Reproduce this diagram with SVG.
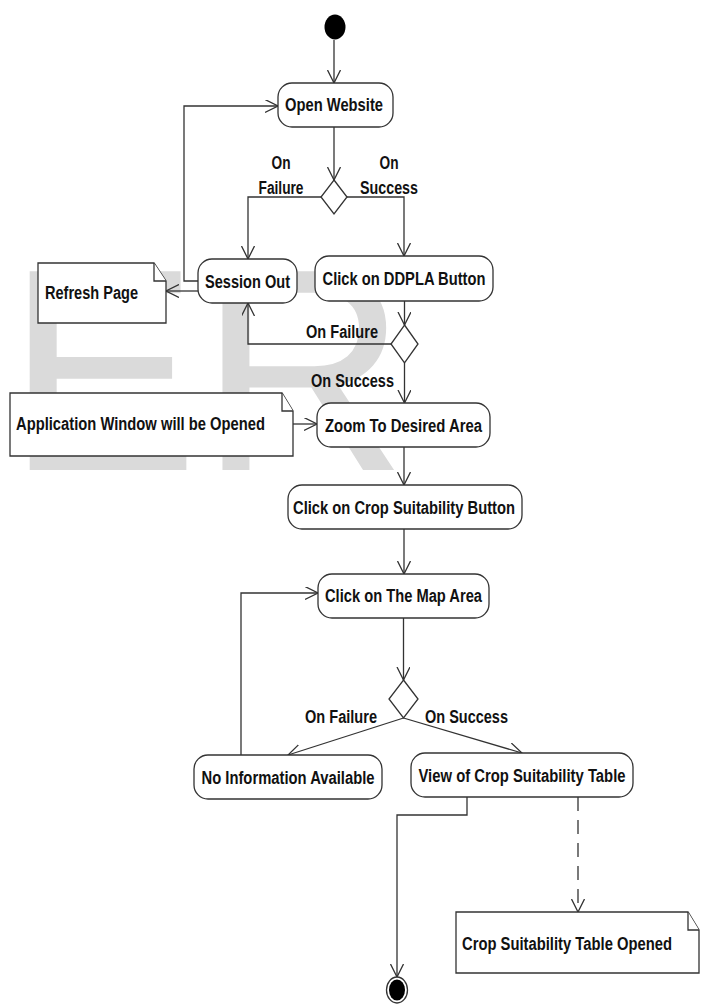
<svg xmlns="http://www.w3.org/2000/svg" width="709" height="1004" viewBox="0 0 709 1004">
<style>
.wm{font-family:"Liberation Sans",Arial,sans-serif;font-size:289px;fill:#dadada}
.box{fill:#fff;stroke:#333;stroke-width:1.3}
.note{fill:#fff;stroke:#333;stroke-width:1.3}
.t{font-family:"Liberation Sans Narrow","Arial Narrow","Liberation Sans",Arial,sans-serif;font-weight:bold;font-size:18px;fill:#111;text-anchor:middle}
.tl{font-family:"Liberation Sans Narrow","Arial Narrow","Liberation Sans",Arial,sans-serif;font-weight:bold;font-size:18px;fill:#111;text-anchor:start}
.c{fill:none;stroke:#333;stroke-width:1.3;marker-end:url(#arr)}
.d{stroke-dasharray:14 9}
</style>
<defs>
<marker id="arr" markerUnits="userSpaceOnUse" markerWidth="14" markerHeight="14" refX="13" refY="6.5" orient="auto">
<path d="M0,0 L13,6.5 L0,13" fill="none" stroke="#333" stroke-width="1.3"/>
</marker>
</defs>
<rect width="709" height="1004" fill="#fff"/>
<text class="wm" x="6" y="470">ER</text>

<g id="connectors">
<path class="c" d="M334,40 V83"/>
<path class="c" d="M334,127 V180"/>
<path class="c" d="M321,197 H248 V259"/>
<path class="c" d="M347,197 H404 V256"/>
<path class="c" d="M198,281 H184 V106 H278"/>
<path class="c" d="M198,291 H166"/>
<path class="c" d="M404.5,301 V325"/>
<path class="c" d="M391,344 H248 V303"/>
<path class="c" d="M404.5,363 V403"/>
<path class="c" d="M293,424 H317"/>
<path class="c" d="M404,447 V485"/>
<path class="c" d="M404,529 V574"/>
<path class="c" d="M403.5,618 V680"/>
<path class="c" d="M403.5,718 L288,755"/>
<path class="c" d="M403.5,718 L522,753"/>
<path class="c" d="M241,755 V593 H318"/>
<path class="c" d="M467,797 V815 H397 V977"/>
<path class="c d" d="M578,797 V912"/>
</g>

<g id="labels">
<text class="t" x="281" y="169" textLength="19" lengthAdjust="spacingAndGlyphs">On</text>
<text class="t" x="281" y="194" textLength="45" lengthAdjust="spacingAndGlyphs">Failure</text>
<text class="t" x="389" y="169" textLength="19" lengthAdjust="spacingAndGlyphs">On</text>
<text class="t" x="389" y="194" textLength="58" lengthAdjust="spacingAndGlyphs">Success</text>
<text class="t" x="342" y="338" textLength="72" lengthAdjust="spacingAndGlyphs">On Failure</text>
<text class="t" x="352.5" y="386.5" textLength="83" lengthAdjust="spacingAndGlyphs">On Success</text>
<text class="t" x="341" y="723" textLength="72" lengthAdjust="spacingAndGlyphs">On Failure</text>
<text class="t" x="466.5" y="723" textLength="83" lengthAdjust="spacingAndGlyphs">On Success</text>
</g>

<g id="start"><ellipse cx="335" cy="27" rx="10.5" ry="12.5" fill="#000"/></g>

<g id="open-website">
<rect class="box" x="278" y="83" width="115" height="44" rx="14"/>
<text class="t" x="334" y="111" textLength="98" lengthAdjust="spacingAndGlyphs">Open Website</text>
</g>

<g id="decision1"><polygon class="box" points="334,180 347,197 334,214 321,197"/></g>

<g id="session-out">
<rect class="box" x="198" y="259" width="99" height="44" rx="14"/>
<text class="t" x="247.5" y="287.5" textLength="85" lengthAdjust="spacingAndGlyphs">Session Out</text>
</g>

<g id="refresh-page">
<path class="note" d="M38,263 H154 L166,281 V323 H38 Z"/>
<path class="note" d="M154,263 V281 H166" fill="none"/>
<text class="tl" x="45" y="299" textLength="93" lengthAdjust="spacingAndGlyphs">Refresh Page</text>
</g>

<g id="ddpla">
<rect class="box" x="315" y="256" width="178" height="45" rx="14"/>
<text class="t" x="404" y="284.5" textLength="163" lengthAdjust="spacingAndGlyphs">Click on DDPLA Button</text>
</g>

<g id="decision2"><polygon class="box" points="404.5,325 418,344 404.5,363 391,344"/></g>

<g id="app-window-note">
<path class="note" d="M10,393 H282 L293,411 V456 H10 Z"/>
<path class="note" d="M282,393 V411 H293" fill="none"/>
<text class="tl" x="16" y="429.5" textLength="249" lengthAdjust="spacingAndGlyphs">Application Window will be Opened</text>
</g>

<g id="zoom-area">
<rect class="box" x="317" y="403" width="173" height="44" rx="14"/>
<text class="t" x="403.5" y="431.5" textLength="157" lengthAdjust="spacingAndGlyphs">Zoom To Desired Area</text>
</g>

<g id="crop-button">
<rect class="box" x="288" y="485" width="234" height="44" rx="14"/>
<text class="t" x="404" y="513.5" textLength="222" lengthAdjust="spacingAndGlyphs">Click on Crop Suitability Button</text>
</g>

<g id="map-area">
<rect class="box" x="318" y="574" width="171" height="44" rx="14"/>
<text class="t" x="403.5" y="601.5" textLength="157" lengthAdjust="spacingAndGlyphs">Click on The Map Area</text>
</g>

<g id="decision3"><polygon class="box" points="403.5,680 418,699 403.5,718 389,699"/></g>

<g id="no-info">
<rect class="box" x="194" y="755" width="188" height="44" rx="14"/>
<text class="t" x="288" y="783.5" textLength="173" lengthAdjust="spacingAndGlyphs">No Information Available</text>
</g>

<g id="view-table">
<rect class="box" x="411" y="753" width="222" height="44" rx="14"/>
<text class="t" x="522" y="781.5" textLength="207" lengthAdjust="spacingAndGlyphs">View of Crop Suitability Table</text>
</g>

<g id="table-opened-note">
<path class="note" d="M456,912 H688 L699,930 V973 H456 Z"/>
<path class="note" d="M688,912 V930 H699" fill="none"/>
<text class="tl" x="462" y="949.5" textLength="210" lengthAdjust="spacingAndGlyphs">Crop Suitability Table Opened</text>
</g>

<g id="end">
<ellipse cx="397" cy="990" rx="10.5" ry="13" fill="#fff" stroke="#333" stroke-width="1.3"/>
<ellipse cx="397" cy="990" rx="8" ry="10.5" fill="#000"/>
</g>
</svg>
